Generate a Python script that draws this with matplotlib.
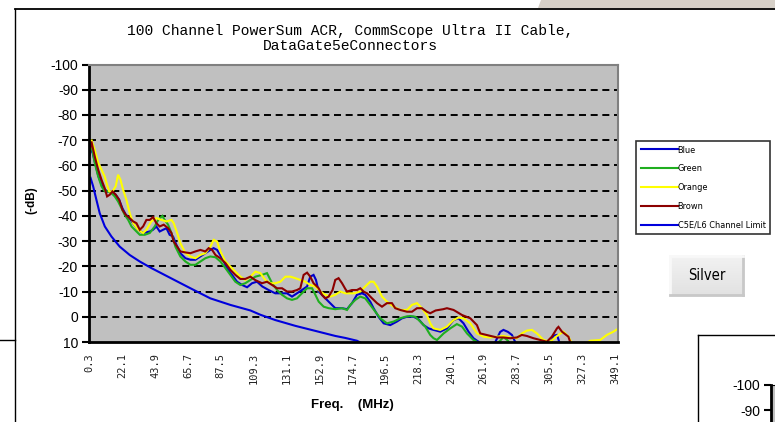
import numpy as np
import matplotlib
matplotlib.use("Agg")
import matplotlib.pyplot as plt
from matplotlib.lines import Line2D
from matplotlib.patches import Polygon
from matplotlib import font_manager

# ---------------- data ----------------
x_tick_labels = ["0.3", "22.1", "43.9", "65.7", "87.5", "109.3", "131.1", "152.9", "174.7",
                 "196.5", "218.3", "240.1", "261.9", "283.7", "305.5", "327.3", "349.1"]
y_ticks = [-100, -90, -80, -70, -60, -50, -40, -30, -20, -10, 0, 10]

blue_f = [0.3, 1.6, 3.8, 6.1, 8.3, 10.4, 12.6, 14.9, 17.7, 20.0, 22.2, 24.4, 27.0, 29.3, 32.6, 35.9,
          40.3, 42.5, 44.7, 46.9, 49.2, 51.4, 53.5, 55.8, 58.0, 60.6, 64.0, 67.3, 70.6, 73.9, 77.2,
          80.5, 82.7, 85.0, 88.3, 91.6, 94.9, 98.2, 101.6, 104.9, 108.2, 111.5, 115.0, 119.2, 123.6,
          128.1, 131.4, 134.7, 138.0, 141.3, 144.7, 146.8, 149.0, 150.6, 152.4, 155.7, 159.0, 163.4,
          167.9, 171.2, 174.5, 177.8, 181.1, 183.3, 186.6, 188.8, 192.1, 195.5, 199.9, 204.3, 207.7,
          211.0, 215.4, 218.7, 222.0, 225.3, 228.6, 233.1, 237.5, 241.9, 245.2, 248.5, 251.8, 255.1,
          258.5, 262.0, 268.0, 272.8, 275.0, 278.0, 280.6, 282.8, 286.0, 300.0, 306.0, 308.2, 310.5,
          311.5, 313.0, 351.0]
blue_v = [-64, -67, -61.5, -56, -52.5, -50.5, -49.5, -49.7, -48.4, -46.4, -43, -40.5, -39, -37, -34.5, -33.2,
          -33.8, -34.5, -35.8, -33.8, -34.5, -35.1, -32.5, -31.8, -28.5, -25.2, -23.2, -22.6, -22.6, -23.9, -25.2,
          -26.5, -27.2, -26.5, -23.2, -19.3, -16.6, -13.9, -12.6, -11.7, -13.3, -13.9, -12.0, -10.6, -9.3,
          -9.3, -9.3, -8.0, -9.3, -10.6, -12.0, -15.9, -16.6, -14.6, -10.0, -8.0, -6.0, -3.4,
          -3.4, -3.0, -5.4, -8.7, -9.3, -8.7, -6.0, -3.4, 0.0, 2.6, 3.3, 1.9, 0.6,
          0.0, 0.0, 1.0, 3.3, 4.6, 5.2, 5.9, 4.6, 1.3, 0.6, 2.6, 5.9, 8.5,
          9.9, 12, 12, 6, 5.2, 6, 7.2, 10, 12, 12, 11, 7.5, 7.2,
          9, 12, 13]

green_f = [0.3, 1.6, 3.8, 6.1, 8.3, 10.4, 12.6, 14.9, 17.1, 19.3, 21.5, 23.7, 26.0, 28.2, 31.5, 33.7,
           37.0, 40.3, 43.6, 45.9, 48.7, 50.2, 52.5, 54.7, 57.3, 60.6, 64.0, 67.3, 70.6, 73.9, 77.2,
           80.5, 83.9, 87.2, 90.5, 93.8, 97.1, 100.4, 103.7, 107.1, 110.4, 114.8, 118.1, 121.5, 124.8,
           128.1, 131.4, 134.7, 138.0, 141.3, 144.7, 148.0, 150.2, 152.4, 155.7, 159.0, 163.4, 167.9,
           171.2, 173.4, 176.7, 180.0, 183.3, 186.6, 190.0, 193.3, 197.7, 202.1, 206.5, 209.8, 213.2,
           216.5, 219.8, 223.1, 226.4, 228.6, 230.9, 235.3, 239.7, 244.1, 247.5, 250.8, 255.1, 257.4,
           260.0, 268.0, 272.8, 275.0, 278.0, 281.0, 300.0, 330.0, 351.0]
green_v = [-65, -68.2, -61.0, -55.6, -51.7, -49.7, -49.7, -49.0, -47.7, -45.7, -43.1, -40.4, -38.4, -35.8, -33.8, -32.5,
           -32.5, -33.2, -35.8, -38.4, -40.0, -38.4, -36.5, -33.2, -27.8, -23.9, -21.9, -20.6, -20.6, -21.9, -23.2,
           -23.9, -23.6, -21.9, -19.3, -16.6, -13.9, -12.6, -13.3, -14.6, -15.9, -16.6, -17.3, -13.3, -10.6,
           -8.7, -7.3, -6.7, -7.3, -9.3, -11.3, -11.3, -8.7, -6.0, -4.0, -3.4, -3.0, -3.4,
           -2.7, -4.7, -6.7, -8.0, -7.3, -4.7, -2.0, 0.6, 2.6, 1.9, 0.6, 0.0, -0.3,
           0.0, 1.9, 3.9, 7.2, 8.5, 9.2, 6.6, 4.6, 2.9, 3.9, 6.6, 9.2, 9.9,
           11.5, 12, 9.5, 8.0, 9.5, 12, 13, 13, 13]

orange_f = [0.3, 1.6, 3.8, 6.1, 8.3, 10.4, 12.0, 13.4, 15.6, 17.7, 19.3, 20.9, 22.6, 24.8, 27.0, 29.3,
            32.6, 35.9, 38.1, 41.4, 44.7, 48.0, 51.4, 54.7, 56.2, 58.5, 60.6, 64.0, 67.3, 70.6, 73.9,
            77.2, 80.5, 82.7, 85.0, 87.2, 90.5, 93.8, 97.1, 100.4, 103.7, 107.1, 110.4, 113.7, 117.0,
            120.3, 123.6, 127.0, 130.3, 133.6, 136.9, 140.2, 143.5, 146.8, 150.2, 153.5, 156.8, 160.1,
            163.4, 166.7, 170.1, 173.4, 175.6, 180.0, 183.3, 186.6, 188.8, 191.1, 194.4, 197.7, 202.1,
            206.5, 211.0, 214.3, 217.6, 220.9, 224.2, 226.4, 228.6, 233.1, 237.5, 241.9, 245.2, 248.5,
            253.0, 257.4, 261.8, 266.2, 270.7, 275.0, 279.5, 283.9, 287.2, 290.5, 293.9, 297.2, 301.6,
            306.0, 310.5, 314.8, 318.1, 320.4, 325.0, 330.0, 332.5, 339.2, 343.6, 348.0, 351.3]
orange_v = [-65, -70.2, -66.2, -61.0, -58.3, -55.6, -52.3, -49.7, -49.7, -51.7, -56.3, -54.3, -50.4, -46.4, -41.1, -37.1,
            -34.5, -33.2, -34.5, -37.8, -39.1, -38.4, -37.8, -38.4, -37.1, -33.2, -29.2, -25.2, -23.9, -23.2, -24.5,
            -25.2, -27.8, -30.5, -29.8, -25.9, -21.9, -19.9, -17.9, -15.9, -14.6, -15.9, -17.9, -17.3, -14.6,
            -13.3, -13.3, -13.9, -15.9, -15.9, -15.3, -14.6, -13.9, -12.6, -12.0, -10.0, -8.7, -8.0,
            -8.7, -10.0, -9.3, -9.3, -9.3, -10.0, -12.0, -13.9, -13.9, -12.0, -8.0, -6.0, -4.0,
            -2.7, -2.7, -4.7, -5.4, -3.4, -0.7, 2.6, 4.6, 5.2, 3.9, 1.3, 0.3, 0.6,
            2.6, 6.6, 7.9, 8.2, 7.9, 7.6, 8.2, 8.5, 6.6, 5.5, 5.2, 6.6, 9.2,
            9.9, 7.6, 5.9, 7.9, 10.5, 12, 10.5, 9.5, 9.2, 7.2, 5.9, 4.6]

brown_f = [0.3, 1.6, 3.8, 6.1, 8.3, 10.4, 12.0, 13.8, 15.6, 17.7, 20.0, 22.2, 24.4, 27.0, 29.3, 31.5,
           33.7, 35.9, 38.1, 40.3, 42.5, 44.7, 46.9, 49.6, 52.5, 54.7, 56.2, 58.5, 60.6, 64.0, 67.3,
           70.6, 73.9, 77.2, 79.4, 81.7, 83.9, 87.2, 90.5, 93.8, 97.1, 100.4, 103.7, 107.1, 110.4,
           114.8, 118.1, 121.5, 124.8, 128.1, 131.4, 134.7, 138.0, 140.2, 142.4, 144.7, 146.8, 149.0,
           152.4, 154.6, 156.8, 159.0, 161.6, 163.4, 165.6, 167.9, 170.1, 171.2, 174.5, 177.8, 180.0,
           182.2, 184.5, 187.8, 191.1, 194.4, 197.7, 201.0, 203.2, 206.5, 211.0, 214.3, 217.6, 220.9,
           224.2, 226.4, 230.0, 235.0, 237.5, 241.9, 247.5, 253.0, 257.4, 259.6, 265.1, 270.7, 275.0,
           279.5, 283.9, 287.2, 290.5, 294.9, 299.4, 303.8, 307.1, 310.5, 311.5, 313.8, 318.1, 319.2,
           321.0, 351.0]
brown_v = [-65, -69.5, -63.6, -58.3, -54.3, -51.0, -47.7, -48.4, -49.7, -48.4, -46.4, -42.4, -40.4, -39.1, -37.8, -37.1,
           -34.5, -35.8, -38.4, -38.4, -39.5, -37.1, -35.8, -36.5, -35.1, -33.2, -29.8, -27.8, -25.9, -25.5, -25.2,
           -25.9, -26.5, -25.9, -27.2, -26.5, -24.5, -23.2, -21.3, -18.6, -16.6, -15.0, -15.0, -15.9, -14.5,
           -13.3, -13.9, -12.6, -11.3, -11.3, -10.0, -10.0, -10.6, -11.3, -16.6, -17.5, -15.9, -13.3,
           -11.3, -8.7, -7.3, -8.0, -10.6, -14.6, -15.3, -13.3, -11.0, -10.0, -10.6, -10.6, -11.3,
           -10.0, -9.3, -7.3, -5.4, -4.0, -5.4, -5.4, -3.4, -2.7, -2.0, -2.0, -3.4, -3.4,
           -2.0, -1.4, -2.5, -3.0, -3.4, -2.7, -0.7, 0.6, 3.3, 6.6, 7.4, 8.2, 8.2,
           8.5, 8.2, 7.2, 7.6, 8.5, 9.2, 9.9, 7.9, 4.6, 4.0, 5.9, 7.9, 9.9,
           12, 13]

limit_f = [1.0, 2.75, 4.9, 7.1, 10.5, 14.9, 20.4, 27.0, 33.7, 41.4, 54.0, 67.3, 80.5, 93.8, 107.1,
           113.7, 123.6, 136.9, 150.2, 163.4, 170.1, 177.8, 181.0]
limit_v = [-55.1, -51.7, -46.4, -41.1, -35.8, -31.8, -27.8, -24.5, -21.9, -19.3, -15.4, -11.3, -7.3, -4.7, -2.5,
           -0.8, 1.3, 3.6, 5.6, 7.6, 8.4, 9.5, 10.5]

series = [("Blue", blue_f, blue_v, "#0000cc"),
          ("Green", green_f, green_v, "#1fae1f"),
          ("Orange", orange_f, orange_v, "#ffff00"),
          ("Brown", brown_f, brown_v, "#8c0000"),
          ("C5E/L6 Channel Limit", limit_f, limit_v, "#0000dd")]

title_text = "100 Channel PowerSum ACR, CommScope Ultra II Cable,\nDataGate5eConnectors"

# pick a narrow font if one exists
_ttf = font_manager.fontManager.ttflist
if any(f.name == "Liberation Sans Narrow" for f in _ttf):
    narrow = dict(family="Liberation Sans Narrow", stretch="normal")
elif any(f.name == "DejaVu Sans" and "ondensed" in f.fname for f in _ttf):
    narrow = dict(family="DejaVu Sans", stretch="condensed")
else:
    narrow = dict(family="Liberation Sans", stretch="normal")

# ---------------- figure ----------------
W, H = 775, 422
fig = plt.figure(figsize=(W / 100, H / 100), dpi=100)
fig.patch.set_facecolor("white")


def fx(x):
    return x / W


def fy(y):
    return 1 - y / H


# page decorations
fig.add_artist(Polygon([(fx(541), fy(0)), (fx(775), fy(0)), (fx(775), fy(8)), (fx(538), fy(8))],
                       closed=True, transform=fig.transFigure, facecolor="#d6d0c8", edgecolor="none"))
fig.add_artist(Line2D([fx(15), fx(775)], [fy(9), fy(9)], transform=fig.transFigure, color="black", lw=1.3))
fig.add_artist(Line2D([fx(15), fx(15)], [fy(9), fy(422)], transform=fig.transFigure, color="black", lw=1.0))
fig.add_artist(Line2D([fx(0), fx(15)], [fy(340), fy(340)], transform=fig.transFigure, color="black", lw=1.0))
fig.add_artist(Line2D([fx(698), fx(775)], [fy(335), fy(335)], transform=fig.transFigure, color="black", lw=1.0))
fig.add_artist(Line2D([fx(698), fx(698)], [fy(335), fy(422)], transform=fig.transFigure, color="black", lw=1.0))

# main axes
left_px, right_px, top_px, bot_px = 89, 618, 64.5, 342
ax = fig.add_axes([fx(left_px), fy(bot_px), (right_px - left_px) / W, (bot_px - top_px) / H])
ax.set_facecolor("#c0c0c0")
for name, f, v, c in series:
    ax.plot(f, v, color=c, lw=1.5, label=name, solid_joinstyle="miter")

ax.set_xlim(0, 351)
ax.set_ylim(10, -100)
ax.set_yticks(y_ticks)
ax.set_yticklabels([str(t) for t in y_ticks], fontsize=10, family="Liberation Sans")
ax.set_xticks([float(s) for s in x_tick_labels])
ax.set_xticklabels(x_tick_labels, rotation=90, fontsize=7.5, family="DejaVu Sans Mono",
                   color="#222222", va="top")
ax.tick_params(axis="x", length=0, pad=8)
ax.tick_params(axis="y", length=5, width=1.5, pad=3, direction="out")
for gy in [-90, -80, -70, -60, -50, -40, -30, -20, -10, 0]:
    ax.axhline(gy, color="black", lw=1.4, linestyle=(0, (3.6, 2.4)), zorder=1)
ax.spines["left"].set_linewidth(2)
ax.spines["bottom"].set_linewidth(2)
ax.spines["top"].set_color("#808080")
ax.spines["right"].set_color("#808080")
ax.spines["top"].set_linewidth(1.5)
ax.spines["right"].set_linewidth(1.5)

fig.text(fx(350), fy(38.5), title_text, ha="center", va="center", family="Liberation Mono",
         fontsize=10.5, linespacing=1.15)
fig.text(fx(352), fy(405), "Freq.    (MHz)", ha="center", va="center", family="Liberation Sans",
         fontsize=9.5, fontweight="bold")
fig.text(fx(31), fy(200), "(-dB)", ha="center", va="center", rotation=90, family="Liberation Sans",
         fontsize=8.5, fontweight="bold")

# legend: size chosen so the longest label is ~88 px wide, as in the reference
handles, labels = ax.get_legend_handles_labels()
probe = fig.text(0, 0, "C5E/L6 Channel Limit",
                 fontproperties=font_manager.FontProperties(size=8, **narrow))
fig.canvas.draw()
w_probe = probe.get_window_extent().width
probe.remove()
leg_size = min(8.0, 8.0 * 88.0 / w_probe)
row_px = 20.5
ls = max(0.2, (row_px - leg_size * 1.389 * 1.17) / (leg_size * 1.389))

leg = fig.legend(handles, labels, loc="upper left", bbox_to_anchor=(fx(636), fy(141)),
                 bbox_transform=fig.transFigure, frameon=True, fancybox=False, shadow=False,
                 borderpad=0.5, handlelength=37 / (leg_size * 1.389), handletextpad=0.0,
                 labelspacing=ls, borderaxespad=0.0,
                 prop=font_manager.FontProperties(size=leg_size, **narrow))
leg.get_frame().set_edgecolor("black")
leg.get_frame().set_linewidth(1.2)
for lh in leg.get_lines():
    lh.set_linewidth(1.5)

# Silver button
bax = fig.add_axes([fx(670), fy(295), 73 / W, 39 / H])
grad = np.linspace(0, 1, 50).reshape(-1, 1)
bax.imshow(grad, aspect="auto", cmap=matplotlib.colors.LinearSegmentedColormap.from_list(
    "g", ["#f2f2f2", "#e2e2e2"]), extent=[0, 1, 0, 1])
bax.set_xticks([])
bax.set_yticks([])
for s in ["top", "left"]:
    bax.spines[s].set_color("#f8f8f8")
for s in ["bottom", "right"]:
    bax.spines[s].set_color("#c8c8c8")
for s in bax.spines.values():
    s.set_linewidth(2)
bax.text(0.5, 0.5, "Silver", ha="center", va="center", transform=bax.transAxes,
         fontproperties=font_manager.FontProperties(size=10.5, **narrow))

# partial second chart at bottom right
ax2 = fig.add_axes([fx(771), fy(385) - (bot_px - top_px) / H, 100 / W, (bot_px - top_px) / H])
ax2.set_facecolor("#c0c0c0")
ax2.set_ylim(10, -100)
ax2.set_xlim(0, 1)
ax2.set_yticks([-100, -90])
ax2.set_yticklabels(["-100", "-90"], fontsize=10, family="Liberation Sans")
ax2.set_xticks([])
ax2.tick_params(axis="y", length=5, width=1.5, pad=3)
ax2.spines["left"].set_linewidth(2)

fig.savefig("out.png", dpi=100)
